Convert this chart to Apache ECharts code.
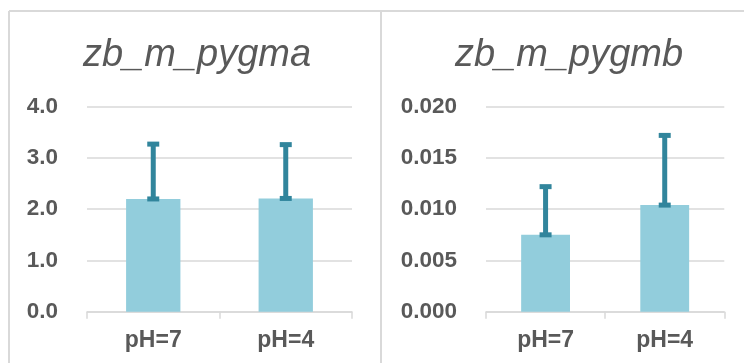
<!DOCTYPE html>
<html>
<head>
<meta charset="utf-8">
<script src="https://cdn.jsdelivr.net/npm/echarts@6/dist/echarts.min.js"></script>
<style>
  html, body { margin: 0; padding: 0; background: #ffffff; }
  #chart { width: 744px; height: 363px; }
</style>
</head>
<body>
<div id="chart"></div>
<script>
// Categories shared by both panels
const categories = ['pH=7', 'pH=4'];

// Panel A: zb_m_pygma
const titleA = 'zb_m_pygma';
const meanA = [2.20, 2.21];
const errA = [1.07, 1.05];
const ticksA = { min: 0, max: 4, interval: 1, digits: 1 };

// Panel B: zb_m_pygmb
const titleB = 'zb_m_pygmb';
const meanB = [0.0075, 0.0104];
const errB = [0.0047, 0.0068];
const ticksB = { min: 0, max: 0.02, interval: 0.005, digits: 3 };

const BAR = '#92CDDC';
const ERR = '#31859C';
const TEXT = '#595959';
const LINE = '#d9d9d9';
const FONT = '"Liberation Sans", Arial, sans-serif';

const chart = echarts.init(document.getElementById('chart'), null, { renderer: 'canvas' });

// Upper error bar: stem from the mean to mean + err, with a cap at each end
function errorRenderer(params, api) {
  const x = api.value(0);
  const lo = api.coord([x, api.value(1)]);
  const hi = api.coord([x, api.value(2)]);
  const stemW = 5, capW = 12, capH = 5;
  const style = { fill: ERR };
  return {
    type: 'group',
    children: [
      { type: 'rect', shape: { x: lo[0] - stemW / 2, y: hi[1], width: stemW, height: lo[1] - hi[1] }, style },
      { type: 'rect', shape: { x: hi[0] - capW / 2, y: hi[1] - capH / 2, width: capW, height: capH }, style },
      { type: 'rect', shape: { x: lo[0] - capW / 2, y: lo[1] - capH / 2, width: capW, height: capH }, style }
    ]
  };
}

function xAxisFor(gridIndex) {
  return {
    type: 'category',
    gridIndex,
    data: categories,
    axisLine: { lineStyle: { color: LINE, width: 1.5 } },
    axisTick: { show: true, length: 7, lineStyle: { color: LINE, width: 1.5 } },
    axisLabel: { color: TEXT, fontFamily: FONT, fontWeight: 'bold', fontSize: 23, margin: 17 }
  };
}

function yAxisFor(gridIndex, t) {
  return {
    type: 'value',
    gridIndex,
    min: t.min,
    max: t.max,
    interval: t.interval,
    axisLine: { show: false },
    axisTick: { show: false },
    splitLine: { lineStyle: { color: LINE, width: 1.5 } },
    axisLabel: {
      color: TEXT, fontFamily: FONT, fontWeight: 'bold', fontSize: 22.5, margin: 29,
      formatter: v => v.toFixed(t.digits)
    }
  };
}

function errData(mean, err) {
  return mean.map((m, i) => [i, m, m + err[i]]);
}

const titleStyle = { color: TEXT, fontFamily: FONT, fontStyle: 'italic', fontWeight: 'normal', fontSize: 38 };

chart.setOption({
  animation: false,
  backgroundColor: '#ffffff',
  title: [
    { text: titleA, left: 192, top: 31, textAlign: 'center', textStyle: titleStyle },
    { text: titleB, left: 564, top: 31, textAlign: 'center', textStyle: titleStyle }
  ],
  grid: [
    { left: 87, right: 392, top: 106.7, bottom: 51.3 },
    { left: 486, right: 19.7, top: 106.7, bottom: 51.3 }
  ],
  xAxis: [xAxisFor(0), xAxisFor(1)],
  yAxis: [yAxisFor(0, ticksA), yAxisFor(1, ticksB)],
  series: [
    { type: 'bar', xAxisIndex: 0, yAxisIndex: 0, data: meanA, barWidth: '41%', itemStyle: { color: BAR } },
    { type: 'custom', xAxisIndex: 0, yAxisIndex: 0, data: errData(meanA, errA), renderItem: errorRenderer, encode: { x: 0, y: [1, 2] }, z: 5 },
    { type: 'bar', xAxisIndex: 1, yAxisIndex: 1, data: meanB, barWidth: '41%', itemStyle: { color: BAR } },
    { type: 'custom', xAxisIndex: 1, yAxisIndex: 1, data: errData(meanB, errB), renderItem: errorRenderer, encode: { x: 0, y: [1, 2] }, z: 5 }
  ],
  graphic: [
    // panel frames
    { type: 'line', shape: { x1: 9, y1: 11, x2: 744, y2: 11 }, style: { stroke: LINE, lineWidth: 2 } },
    { type: 'line', shape: { x1: 9, y1: 11, x2: 9, y2: 363 }, style: { stroke: LINE, lineWidth: 2 } },
    { type: 'line', shape: { x1: 381, y1: 11, x2: 381, y2: 363 }, style: { stroke: LINE, lineWidth: 2 } }
  ]
});
</script>
</body>
</html>
